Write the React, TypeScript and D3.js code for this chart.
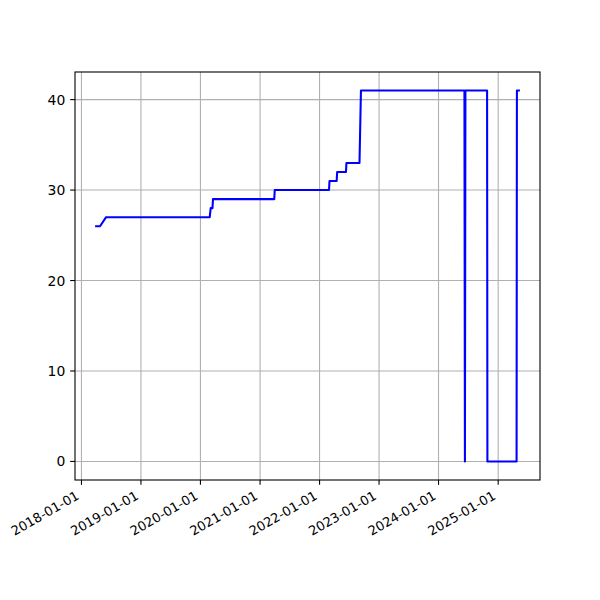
import React, { useEffect } from "react";
import * as d3 from "d3";

const dates = [
  "2018-04-01", "2018-04-25", "2018-06-01",
  "2020-02-27", "2020-03-04", "2020-03-15", "2020-03-18",
  "2021-03-29", "2021-04-01",
  "2022-02-28", "2022-03-03", "2022-04-16", "2022-04-19",
  "2022-06-12", "2022-06-15", "2022-09-03", "2022-09-12",
  "2024-06-08", "2024-06-11", "2024-06-14",
  "2024-10-25", "2024-10-27",
  "2025-04-24", "2025-04-26", "2025-05-08",
];
const values = [
  26, 26, 27,
  27, 28, 28, 29,
  29, 30,
  30, 31, 31, 32,
  32, 33, 33, 41,
  41, 0, 41,
  41, 0,
  0, 41, 41,
];
const xTickLabels = [
  "2018-01-01", "2019-01-01", "2020-01-01", "2021-01-01",
  "2022-01-01", "2023-01-01", "2024-01-01", "2025-01-01",
];
const yTicks = [0, 10, 20, 30, 40];

const W = 600;
const H = 600;
const L = 75;
const R = 540;
const T = 72;
const B = 480;
const FS = 13.9;
const XFS = 13;
const TICK = 4.86;
const PAD = 4.86;

export default function App() {
  useEffect(() => {
    document.body.style.margin = "0";
  }, []);

  const parse = d3.utcParse("%Y-%m-%d");
  const pts = dates.map((d, i) => ({ t: parse(d) as Date, v: values[i] }));
  const tMin = d3.min(pts, (p) => +p.t) as number;
  const tMax = d3.max(pts, (p) => +p.t) as number;
  const tPad = (tMax - tMin) * 0.05;
  const x = d3.scaleUtc().domain([new Date(tMin - tPad), new Date(tMax + tPad)]).range([L, R]);
  const vMin = d3.min(values) as number;
  const vMax = d3.max(values) as number;
  const vPad = (vMax - vMin) * 0.05;
  const y = d3.scaleLinear().domain([vMin - vPad, vMax + vPad]).range([B, T]);

  const line = d3
    .line<{ t: Date; v: number }>()
    .x((p) => x(p.t))
    .y((p) => y(p.v));

  const xTicks = xTickLabels.map((s) => ({ s, px: x(parse(s) as Date) }));
  const grid = "#b0b0b0";
  const labelY = B + TICK + PAD;
  const h = 9.9;
  const dsc = 3.0;

  return (
    <svg width={W} height={H} style={{ display: "block" }} fontFamily="DejaVu Sans" fontSize={FS}>
      <rect x={0} y={0} width={W} height={H} fill="#fff" />
      <defs>
        <clipPath id="clip">
          <rect x={L} y={T} width={R - L} height={B - T} />
        </clipPath>
      </defs>
      {xTicks.map((t) => (
        <line key={"gx" + t.s} x1={t.px} x2={t.px} y1={T} y2={B} stroke={grid} strokeWidth={1.1} />
      ))}
      {yTicks.map((v) => (
        <line key={"gy" + v} x1={L} x2={R} y1={y(v)} y2={y(v)} stroke={grid} strokeWidth={1.1} />
      ))}
      <path
        d={line(pts) || ""}
        fill="none"
        stroke="#0000ff"
        strokeWidth={2.08}
        strokeLinecap="square"
        strokeLinejoin="round"
        clipPath="url(#clip)"
      />
      <rect x={L} y={T} width={R - L} height={B - T} fill="none" stroke="#000" strokeWidth={1.1} />
      {xTicks.map((t) => (
        <g key={"xt" + t.s}>
          <line x1={t.px} x2={t.px} y1={B} y2={B + TICK} stroke="#000" strokeWidth={1.1} />
          <text
            transform={`translate(${t.px - 0.5 * dsc},${labelY + 0.866 * h}) rotate(-30)`}
            textAnchor="end"
            fontSize={XFS}
            fill="#000"
          >
            {t.s}
          </text>
        </g>
      ))}
      {yTicks.map((v) => (
        <g key={"yt" + v}>
          <line x1={L - TICK} x2={L} y1={y(v)} y2={y(v)} stroke="#000" strokeWidth={1.1} />
          <text x={L - TICK - PAD} y={y(v)} dy="0.36em" textAnchor="end" fill="#000">
            {v}
          </text>
        </g>
      ))}
    </svg>
  );
}
